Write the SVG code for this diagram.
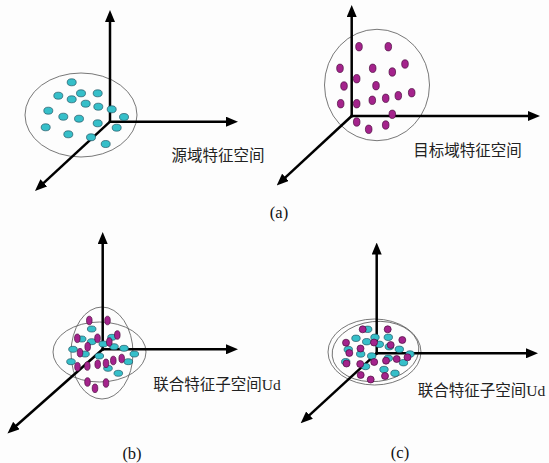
<svg xmlns="http://www.w3.org/2000/svg" width="549" height="463" viewBox="0 0 549 463">
<defs>
<marker id="ah" viewBox="0 0 12 10" refX="3" refY="5" markerWidth="12" markerHeight="10" markerUnits="userSpaceOnUse" orient="auto">
<path d="M0,0 L12,5 L0,10 z" fill="#000"/>
</marker>
</defs>
<style>
.ax{stroke:#000;stroke-width:2.5;fill:none;marker-end:url(#ah)}
.bound{fill:none;stroke:#555;stroke-width:0.8}
.c{fill:#36bfc9;stroke:#1f5563;stroke-width:0.7}
.m{fill:#a4238c;stroke:#4a0d3e;stroke-width:0.7}
.lbl{font-family:"Liberation Serif","Noto Sans CJK SC",serif;font-size:15.5px;fill:#222}
.cap{font-family:"Liberation Serif","Noto Sans CJK SC",serif;font-size:16.5px;fill:#111;text-anchor:middle}
</style>
<rect width="549" height="463" fill="#fdfdfd"/>

<g id="source-boundary"><ellipse class="bound" cx="81" cy="115" rx="56" ry="42"/></g>
<g id="target-boundary"><ellipse class="bound" cx="377" cy="85" rx="52.5" ry="55.7"/></g>
<g id="joint-b-boundary"><ellipse class="bound" cx="99.5" cy="352" rx="46.5" ry="30"/><ellipse class="bound" cx="102" cy="353" rx="31" ry="46"/></g>
<g id="joint-c-boundary"><ellipse class="bound" cx="374.5" cy="352" rx="46.5" ry="33"/><ellipse class="bound" cx="375.5" cy="351.5" rx="43.5" ry="30" transform="rotate(-6 375.5 351.5)"/></g>

<g id="connectors">
<path class="ax" d="M110,123 L110,19"/>
<path class="ax" d="M108.8,121.7 L229,121.7"/>
<path class="ax" d="M110,121.7 L41.6,184.9"/>
<path class="ax" d="M351.7,117.3 L351.7,14"/>
<path class="ax" d="M350.5,116 L531,116"/>
<path class="ax" d="M351.7,116 L283.3,179.4"/>
<path class="ax" d="M102.7,350.6 L102.7,241"/>
<path class="ax" d="M101.5,349.3 L229,349.3"/>
<path class="ax" d="M102.7,349.3 L14.2,427.5"/>
<path class="ax" d="M376.7,354.6 L376.7,251.5"/>
<path class="ax" d="M375.5,353.3 L529,353.3"/>
<path class="ax" d="M376.7,353.3 L307.3,417.2"/>
</g>

<g id="source-points">
<ellipse class="c" cx="71.7" cy="82.3" rx="4.5" ry="3.5"/>
<ellipse class="c" cx="58.3" cy="95.7" rx="4.5" ry="3.5"/>
<ellipse class="c" cx="81" cy="93.3" rx="4.5" ry="3.5"/>
<ellipse class="c" cx="97.7" cy="93.3" rx="4.5" ry="3.5"/>
<ellipse class="c" cx="71.7" cy="99.3" rx="4.5" ry="3.5"/>
<ellipse class="c" cx="85.7" cy="103.7" rx="4.5" ry="3.5"/>
<ellipse class="c" cx="98.3" cy="106.7" rx="4.5" ry="3.5"/>
<ellipse class="c" cx="111.7" cy="109.3" rx="4.5" ry="3.5"/>
<ellipse class="c" cx="48.3" cy="110.7" rx="4.5" ry="3.5"/>
<ellipse class="c" cx="63.3" cy="116.7" rx="4.5" ry="3.5"/>
<ellipse class="c" cx="79" cy="118.7" rx="4.5" ry="3.5"/>
<ellipse class="c" cx="124" cy="117" rx="4.5" ry="3.5"/>
<ellipse class="c" cx="97.7" cy="123.3" rx="4.5" ry="3.5"/>
<ellipse class="c" cx="45.7" cy="127.3" rx="4.5" ry="3.5"/>
<ellipse class="c" cx="116.7" cy="127.7" rx="4.5" ry="3.5"/>
<ellipse class="c" cx="68.3" cy="134.3" rx="4.5" ry="3.5"/>
<ellipse class="c" cx="91" cy="137.3" rx="4.5" ry="3.5"/>
<ellipse class="c" cx="105.7" cy="144" rx="4.5" ry="3.5"/>
</g>

<g id="target-points">
<ellipse class="m" cx="359" cy="46.7" rx="3.3" ry="4.2"/>
<ellipse class="m" cx="388.3" cy="46.7" rx="3.3" ry="4.2"/>
<ellipse class="m" cx="405" cy="64" rx="3.3" ry="4.2"/>
<ellipse class="m" cx="340" cy="68.3" rx="3.3" ry="4.2"/>
<ellipse class="m" cx="372.7" cy="68.3" rx="3.3" ry="4.2"/>
<ellipse class="m" cx="392.3" cy="72" rx="3.3" ry="4.2"/>
<ellipse class="m" cx="356.7" cy="78.7" rx="3.3" ry="4.2"/>
<ellipse class="m" cx="344" cy="86" rx="3.3" ry="4.2"/>
<ellipse class="m" cx="376" cy="85.7" rx="3.3" ry="4.2"/>
<ellipse class="m" cx="411.7" cy="92.7" rx="3.3" ry="4.2"/>
<ellipse class="m" cx="398.3" cy="95.7" rx="3.3" ry="4.2"/>
<ellipse class="m" cx="385.7" cy="98.3" rx="3.3" ry="4.2"/>
<ellipse class="m" cx="372.3" cy="100.3" rx="3.3" ry="4.2"/>
<ellipse class="m" cx="340.7" cy="103.7" rx="3.3" ry="4.2"/>
<ellipse class="m" cx="356.7" cy="103.7" rx="3.3" ry="4.2"/>
<ellipse class="m" cx="392.3" cy="114.3" rx="3.3" ry="4.2"/>
<ellipse class="m" cx="356.7" cy="122" rx="3.3" ry="4.2"/>
<ellipse class="m" cx="385.7" cy="125" rx="3.3" ry="4.2"/>
<ellipse class="m" cx="368.7" cy="129.3" rx="3.3" ry="4.2"/>
</g>

<g id="joint-b-points">
<ellipse class="c" cx="91.7" cy="329" rx="4.3" ry="3"/>
<ellipse class="c" cx="81.7" cy="339" rx="4.3" ry="3"/>
<ellipse class="c" cx="91.7" cy="341.7" rx="4.3" ry="3"/>
<ellipse class="c" cx="112" cy="337.3" rx="4.3" ry="3"/>
<ellipse class="c" cx="103.3" cy="344" rx="4.3" ry="3"/>
<ellipse class="c" cx="73" cy="349.3" rx="4.3" ry="3"/>
<ellipse class="c" cx="114" cy="346.7" rx="4.3" ry="3"/>
<ellipse class="c" cx="124" cy="348.3" rx="4.3" ry="3"/>
<ellipse class="c" cx="85" cy="354" rx="4.3" ry="3"/>
<ellipse class="c" cx="134.3" cy="354" rx="4.3" ry="3"/>
<ellipse class="c" cx="99.3" cy="356" rx="4.3" ry="3"/>
<ellipse class="c" cx="71" cy="361.7" rx="4.3" ry="3"/>
<ellipse class="c" cx="128.3" cy="361.7" rx="4.3" ry="3"/>
<ellipse class="c" cx="108" cy="368.3" rx="4.3" ry="3"/>
<ellipse class="c" cx="118.3" cy="373.3" rx="4.3" ry="3"/>
<ellipse class="m" cx="89.3" cy="320.5" rx="2.8" ry="4.3"/>
<ellipse class="m" cx="107.5" cy="320.5" rx="2.8" ry="4.3"/>
<ellipse class="m" cx="77.3" cy="338.3" rx="2.8" ry="4.3"/>
<ellipse class="m" cx="97.5" cy="338.3" rx="2.8" ry="4.3"/>
<ellipse class="m" cx="117.3" cy="335" rx="2.8" ry="4.3"/>
<ellipse class="m" cx="109.3" cy="342" rx="2.8" ry="4.3"/>
<ellipse class="m" cx="87.7" cy="346.7" rx="2.8" ry="4.3"/>
<ellipse class="m" cx="80" cy="352.7" rx="2.8" ry="4.3"/>
<ellipse class="m" cx="113.3" cy="360.5" rx="2.8" ry="4.3"/>
<ellipse class="m" cx="121.7" cy="358.5" rx="2.8" ry="4.3"/>
<ellipse class="m" cx="77.5" cy="366.7" rx="2.8" ry="4.3"/>
<ellipse class="m" cx="87.3" cy="366" rx="2.8" ry="4.3"/>
<ellipse class="m" cx="97.7" cy="364.3" rx="2.8" ry="4.3"/>
<ellipse class="m" cx="106" cy="363.3" rx="2.8" ry="4.3"/>
<ellipse class="m" cx="87.5" cy="382" rx="2.8" ry="4.3"/>
<ellipse class="m" cx="106" cy="383" rx="2.8" ry="4.3"/>
<ellipse class="m" cx="95" cy="388.3" rx="2.8" ry="4.3"/>
</g>

<g id="joint-c-points">
<ellipse class="c" cx="367.7" cy="329.3" rx="4.2" ry="3.2"/>
<ellipse class="c" cx="356" cy="338.3" rx="4.2" ry="3.2"/>
<ellipse class="c" cx="375" cy="337.3" rx="4.2" ry="3.2"/>
<ellipse class="c" cx="388.3" cy="337.3" rx="4.2" ry="3.2"/>
<ellipse class="c" cx="366.7" cy="341.7" rx="4.2" ry="3.2"/>
<ellipse class="c" cx="379.3" cy="344.3" rx="4.2" ry="3.2"/>
<ellipse class="c" cx="389.3" cy="346.7" rx="4.2" ry="3.2"/>
<ellipse class="c" cx="399.3" cy="349.3" rx="4.2" ry="3.2"/>
<ellipse class="c" cx="348.3" cy="349.5" rx="4.2" ry="3.2"/>
<ellipse class="c" cx="360.7" cy="354" rx="4.2" ry="3.2"/>
<ellipse class="c" cx="371.7" cy="356" rx="4.2" ry="3.2"/>
<ellipse class="c" cx="410" cy="354" rx="4.2" ry="3.2"/>
<ellipse class="c" cx="345.7" cy="361.7" rx="4.2" ry="3.2"/>
<ellipse class="c" cx="365.5" cy="366.5" rx="4.2" ry="3.2"/>
<ellipse class="c" cx="388.3" cy="358.3" rx="4.2" ry="3.2"/>
<ellipse class="c" cx="403.5" cy="362.7" rx="4.2" ry="3.2"/>
<ellipse class="c" cx="384" cy="369.5" rx="4.2" ry="3.2"/>
<ellipse class="c" cx="395" cy="373.3" rx="4.2" ry="3.2"/>
<ellipse class="m" cx="362.7" cy="329.3" rx="3.5" ry="3.5"/>
<ellipse class="m" cx="387.7" cy="329.3" rx="3.5" ry="3.5"/>
<ellipse class="m" cx="346" cy="342.7" rx="3.5" ry="3.5"/>
<ellipse class="m" cx="402.3" cy="340" rx="3.5" ry="3.5"/>
<ellipse class="m" cx="360.5" cy="348.5" rx="3.5" ry="3.5"/>
<ellipse class="m" cx="349.3" cy="353" rx="3.5" ry="3.5"/>
<ellipse class="m" cx="374" cy="342.5" rx="3.5" ry="3.5"/>
<ellipse class="m" cx="390.7" cy="345" rx="3.5" ry="3.5"/>
<ellipse class="m" cx="346.5" cy="363.5" rx="3.5" ry="3.5"/>
<ellipse class="m" cx="360.2" cy="364" rx="3.5" ry="3.5"/>
<ellipse class="m" cx="374.2" cy="362" rx="3.5" ry="3.5"/>
<ellipse class="m" cx="386" cy="360.7" rx="3.5" ry="3.5"/>
<ellipse class="m" cx="396.7" cy="359" rx="3.5" ry="3.5"/>
<ellipse class="m" cx="407.5" cy="357.3" rx="3.5" ry="3.5"/>
<ellipse class="m" cx="360.7" cy="375" rx="3.5" ry="3.5"/>
<ellipse class="m" cx="370.7" cy="379.5" rx="3.5" ry="3.5"/>
<ellipse class="m" cx="385" cy="376" rx="3.5" ry="3.5"/>
</g>

<g id="labels">
<text class="lbl" x="171.5" y="161">源域特征空间</text>
<text class="lbl" x="413.3" y="156">目标域特征空间</text>
<text class="lbl" x="153.3" y="389.5">联合特征子空间Ud</text>
<text class="lbl" x="417.7" y="396">联合特征子空间Ud</text>
<text class="cap" x="279" y="217.5">(a)</text>
<text class="cap" x="132" y="458.5">(b)</text>
<text class="cap" x="400" y="457.5">(c)</text>
</g>
</svg>
